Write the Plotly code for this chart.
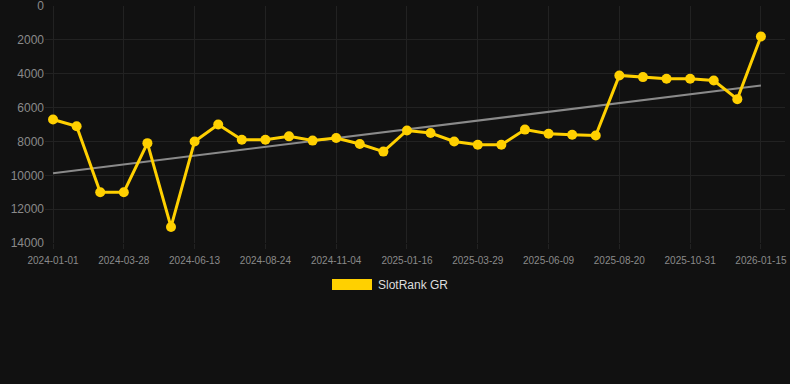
import numpy as np
import plotly.graph_objects as go

dates = [
    "2024-01-01", "2024-01-30", "2024-02-28", "2024-03-28", "2024-04-23", "2024-05-18",
    "2024-06-13", "2024-07-07", "2024-07-31", "2024-08-24", "2024-09-17", "2024-10-11",
    "2024-11-04", "2024-11-28", "2024-12-22", "2025-01-16", "2025-02-09", "2025-03-05",
    "2025-03-29", "2025-04-22", "2025-05-16", "2025-06-09", "2025-07-03", "2025-07-27",
    "2025-08-20", "2025-09-13", "2025-10-07", "2025-10-31", "2025-11-24", "2025-12-19",
    "2026-01-15",
]
ranks = [
    6700, 7100, 11000, 11000, 8100, 13050,
    8000, 7000, 7900, 7900, 7700, 7950,
    7800, 8150, 8600, 7350, 7500, 8000,
    8200, 8200, 7300, 7550, 7600, 7650,
    4100, 4200, 4300, 4300, 4400, 5500,
    1800,
]
series_name = "SlotRank GR"
y_ticks = [0, 2000, 4000, 6000, 8000, 10000, 12000, 14000]

idx = np.arange(len(dates))
slope, intercept = np.polyfit(idx, ranks, 1)
trend = slope * idx + intercept

fig = go.Figure()
fig.add_trace(go.Scatter(
    x=idx, y=trend, mode="lines",
    line=dict(color="#8a8a8a", width=2),
    hoverinfo="skip", showlegend=False,
))
fig.add_trace(go.Scatter(
    x=idx, y=ranks, mode="lines+markers", name=series_name,
    line=dict(color="#FFD000", width=3),
    marker=dict(color="#FFD000", size=10),
    showlegend=False,
))

tick_idx = list(idx[::3])
fig.update_layout(
    width=790, height=384,
    paper_bgcolor="#111111", plot_bgcolor="#111111",
    margin=dict(l=45, r=5, t=6, b=141),
    font=dict(family="Arial, Liberation Sans, sans-serif", color="#888888"),
    xaxis=dict(
        range=[-0.34, 31.02], automargin=False,
        tickmode="array", tickvals=tick_idx,
        ticktext=[dates[i] for i in tick_idx],
        tickfont=dict(size=10, color="#8a8a8a"),
        showgrid=True, gridcolor="#222222", gridwidth=1,
        zeroline=False, showline=False,
        ticks="outside", ticklen=5, tickcolor="#222222",
        ticklabeloverflow="allow", ticklabelstandoff=3,
    ),
    yaxis=dict(
        range=[14000, -2], automargin=False,
        tickmode="array", tickvals=y_ticks,
        ticktext=[str(v) for v in y_ticks],
        tickfont=dict(size=12, color="#8a8a8a"),
        showgrid=True, gridcolor="#222222", gridwidth=1,
        zeroline=False, showline=False, ticklen=0,
        ticklabeloverflow="allow",
    ),
    shapes=[dict(
        type="rect", xref="paper", yref="paper",
        x0=(332 - 45) / 740, x1=(372 - 45) / 740,
        y0=(243 - 290) / 237, y1=(243 - 279) / 237,
        fillcolor="#FFD000", line=dict(width=0),
    )],
    annotations=[dict(
        text=series_name, xref="paper", yref="paper",
        x=(376 - 45) / 740, y=(243 - 284.5) / 237,
        xanchor="left", yanchor="middle", showarrow=False,
        font=dict(size=12, color="#dddddd"),
    )],
)

fig.write_html(
    "out.html",
    config={"displayModeBar": False},
    post_script="document.body.style.margin='0';document.body.style.background='#111111';",
)
